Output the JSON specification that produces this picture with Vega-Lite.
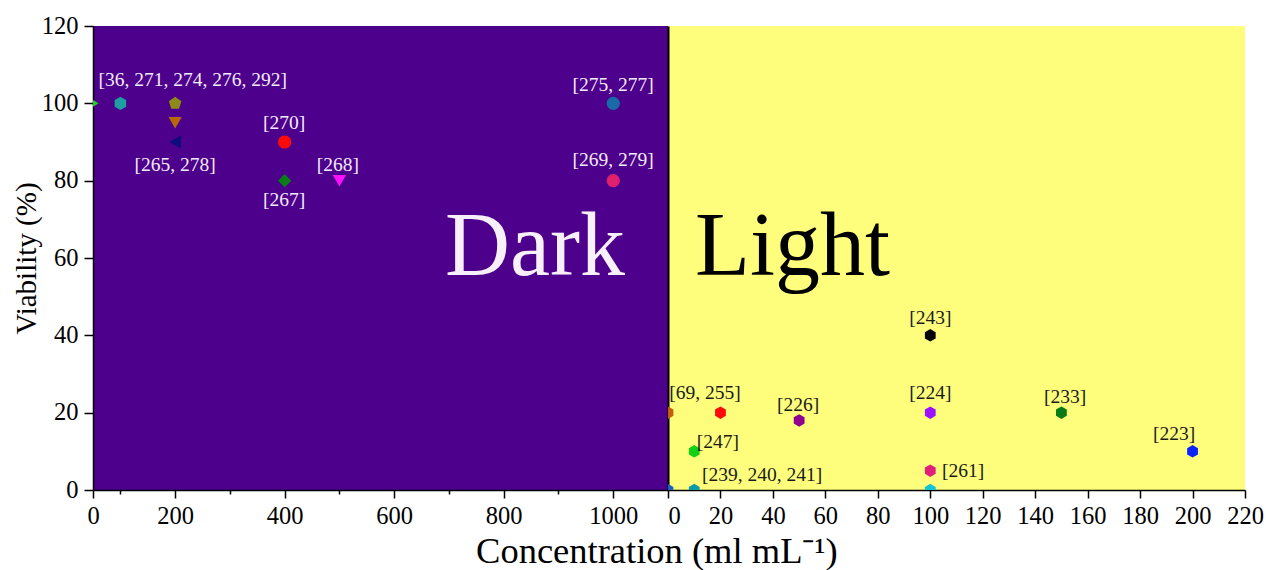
{
  "$schema": "https://vega.github.io/schema/vega-lite/v6.json",
  "padding": {"left": 12, "top": 13, "right": 0, "bottom": 0},
  "background": "white",
  "spacing": 0,
  "bounds": "flush",
  "resolve": {"scale": {"color": "independent", "shape": "independent"}},
  "title": {
    "text": "Concentration (ml mL⁻¹)",
    "orient": "bottom",
    "anchor": "middle",
    "fontSize": 36.5,
    "fontWeight": "normal",
    "font": "Liberation Serif",
    "color": "black",
    "offset": 6,
    "dx": 19
  },
  "config": {
    "view": {"stroke": null},
    "font": "Liberation Serif",
    "axis": {
      "grid": false,
      "domainColor": "black",
      "domainWidth": 1.5,
      "tickColor": "black",
      "tickWidth": 1.5,
      "labelColor": "black",
      "labelFont": "Liberation Serif",
      "labelFontSize": 24.5,
      "labelFlush": false,
      "labelOverlap": false,
      "titleFont": "Liberation Serif",
      "titleFontWeight": "normal",
      "titleColor": "black"
    }
  },
  "datasets": {
    "darkPoints": [
      {"x": 0, "y": 100, "p": "a"},
      {"x": 100, "y": 100, "p": "b"},
      {"x": 200, "y": 100, "p": "c"},
      {"x": 200, "y": 95, "p": "d"},
      {"x": 200, "y": 90, "p": "e"},
      {"x": 400, "y": 90, "p": "f"},
      {"x": 400, "y": 80, "p": "g"},
      {"x": 500, "y": 80, "p": "h"},
      {"x": 1000, "y": 100, "p": "i"},
      {"x": 1000, "y": 80, "p": "j"}
    ],
    "darkLabels": [
      {"x": 232, "y": 106, "label": "[36, 271, 274, 276, 292]"},
      {"x": 200, "y": 84, "label": "[265, 278]"},
      {"x": 399, "y": 95, "label": "[270]"},
      {"x": 399, "y": 75, "label": "[267]"},
      {"x": 497, "y": 84, "label": "[268]"},
      {"x": 1000, "y": 104.7, "label": "[275, 277]"},
      {"x": 1000, "y": 85.3, "label": "[269, 279]"}
    ],
    "darkBig": [{"x": 857, "y": 55.6, "label": "Dark"}],
    "lightPoints": [
      {"x": 0, "y": 20, "p": "k"},
      {"x": 0, "y": 0, "p": "l"},
      {"x": 10, "y": 10, "p": "m"},
      {"x": 10, "y": 0, "p": "n"},
      {"x": 20, "y": 20, "p": "o"},
      {"x": 50, "y": 18, "p": "q"},
      {"x": 100, "y": 40, "p": "r"},
      {"x": 100, "y": 20, "p": "s"},
      {"x": 100, "y": 5, "p": "t"},
      {"x": 100, "y": 0, "p": "u"},
      {"x": 150, "y": 20, "p": "v"},
      {"x": 200, "y": 10, "p": "w"}
    ],
    "lightLabelsCenter": [
      {"x": 49.6, "y": 22, "label": "[226]"},
      {"x": 100, "y": 44.5, "label": "[243]"},
      {"x": 100, "y": 25, "label": "[224]"},
      {"x": 151.4, "y": 24, "label": "[233]"},
      {"x": 193, "y": 14.5, "label": "[223]"}
    ],
    "lightLabelsLeft": [
      {"x": 0.5, "y": 25, "label": "[69, 255]"},
      {"x": 11, "y": 12.4, "label": "[247]"},
      {"x": 13, "y": 3.9, "label": "[239, 240, 241]"},
      {"x": 104.5, "y": 5, "label": "[261]"}
    ],
    "lightBig": [{"x": 10.3, "y": 55.6, "label": "Light"}]
  },
  "hconcat": [
    {
      "width": 575,
      "height": 464,
      "view": {"fill": "#4d008c", "stroke": null},
      "layer": [
        {
          "data": {"name": "darkBig"},
          "mark": {"type": "text", "fontSize": 90, "color": "#f7f0fa", "align": "center", "baseline": "alphabetic", "font": "Liberation Serif"},
          "encoding": {
            "x": {"field": "x", "type": "quantitative"},
            "y": {"field": "y", "type": "quantitative"},
            "text": {"field": "label"}
          }
        },
        {
          "data": {"name": "darkPoints"},
          "mark": {"type": "point", "filled": true, "opacity": 1, "size": 175, "clip": true},
          "encoding": {
            "x": {
              "field": "x", "type": "quantitative",
              "scale": {"domain": [50, 1100], "clamp": true, "nice": false, "zero": false},
              "axis": {
                "title": null,
                "format": "d",
                "values": [50, 100, 200, 300, 400, 500, 600, 700, 800, 900, 1000],
                "labelExpr": "datum.value == 50 ? '0' : (datum.value % 200 == 0 ? datum.label : '')",
                "tickSize": {"condition": {"test": "datum.value % 200 != 0 && datum.value != 50", "value": 4}, "value": 8},
                "labelPadding": 6
              }
            },
            "y": {
              "field": "y", "type": "quantitative",
              "scale": {"domain": [0, 120], "nice": false, "zero": false},
              "axis": {
                "title": "Viability (%)",
                "titleFontSize": 29,
                "titlePadding": 0,
                "values": [0, 10, 20, 30, 40, 50, 60, 70, 80, 90, 100, 110, 120],
                "labelExpr": "datum.value % 20 == 0 ? datum.label : ''",
                "tickSize": {"condition": {"test": "datum.value % 20 != 0", "value": 4}, "value": 9},
                "labelPadding": 6
              }
            },
            "color": {
              "field": "p", "type": "nominal", "legend": null,
              "scale": {
                "domain": ["a", "b", "c", "d", "e", "f", "g", "h", "i", "j"],
                "range": ["#22d022", "#1e9ea0", "#8e8a18", "#b8680a", "#0c0c7c", "#ff0a0a", "#0a7e16", "#ff10ff", "#1a6aa8", "#e0206e"]
              }
            },
            "shape": {
              "field": "p", "type": "nominal", "legend": null,
              "scale": {
                "domain": ["a", "b", "c", "d", "e", "f", "g", "h", "i", "j"],
                "range": [
                  "triangle-right",
                  "M0,-1L0.866,-0.5L0.866,0.5L0,1L-0.866,0.5L-0.866,-0.5Z",
                  "M0,-1L0.951,-0.309L0.588,0.809L-0.588,0.809L-0.951,-0.309Z",
                  "triangle-down",
                  "triangle-left",
                  "circle",
                  "diamond",
                  "triangle-down",
                  "circle",
                  "circle"
                ]
              }
            }
          }
        },
        {
          "data": {"name": "darkLabels"},
          "mark": {"type": "text", "fontSize": 19.5, "color": "#f3ecfa", "align": "center", "baseline": "middle", "font": "Liberation Serif"},
          "encoding": {
            "x": {"field": "x", "type": "quantitative"},
            "y": {"field": "y", "type": "quantitative"},
            "text": {"field": "label"}
          }
        }
      ]
    },
    {
      "width": 577,
      "height": 464,
      "view": {"fill": "#fefe7c", "stroke": null},
      "layer": [
        {
          "data": {"name": "lightBig"},
          "mark": {"type": "text", "fontSize": 90, "color": "black", "align": "left", "baseline": "alphabetic", "font": "Liberation Serif"},
          "encoding": {
            "x": {"field": "x", "type": "quantitative"},
            "y": {"field": "y", "type": "quantitative"},
            "text": {"field": "label"}
          }
        },
        {
          "data": {"name": "lightPoints"},
          "mark": {"type": "point", "filled": true, "opacity": 1, "size": 155, "clip": true, "shape": "M0,-1L0.866,-0.5L0.866,0.5L0,1L-0.866,0.5L-0.866,-0.5Z"},
          "encoding": {
            "x": {
              "field": "x", "type": "quantitative",
              "scale": {"domain": [0, 220], "nice": false, "zero": false},
              "axis": {
                "title": null,
                "values": [0, 10, 20, 30, 40, 50, 60, 70, 80, 90, 100, 110, 120, 130, 140, 150, 160, 170, 180, 190, 200, 210, 220],
                "labelExpr": "datum.value % 20 == 0 ? datum.label : ''",
                "labelAlign": {"condition": {"test": "datum.value == 0", "value": "left"}, "value": "center"},
                "tickSize": {"condition": {"test": "datum.value % 20 != 0", "value": 4}, "value": 8},
                "labelPadding": 6
              }
            },
            "y": {
              "field": "y", "type": "quantitative",
              "scale": {"domain": [0, 120], "nice": false, "zero": false},
              "axis": {"title": null, "labels": false, "ticks": false, "domainWidth": 2}
            },
            "color": {
              "field": "p", "type": "nominal", "legend": null,
              "scale": {
                "domain": ["k", "l", "m", "n", "o", "q", "r", "s", "t", "u", "v", "w"],
                "range": ["#c0600c", "#1a62c0", "#14d014", "#0a9aa8", "#ff0a0a", "#900090", "#050505", "#9a12ff", "#e0207a", "#10c4d4", "#0a7a14", "#0a22ff"]
              }
            }
          }
        },
        {
          "data": {"name": "lightLabelsCenter"},
          "mark": {"type": "text", "fontSize": 19.5, "color": "#1a1a1a", "align": "center", "baseline": "middle", "font": "Liberation Serif"},
          "encoding": {
            "x": {"field": "x", "type": "quantitative"},
            "y": {"field": "y", "type": "quantitative"},
            "text": {"field": "label"}
          }
        },
        {
          "data": {"name": "lightLabelsLeft"},
          "mark": {"type": "text", "fontSize": 19.5, "color": "#1a1a1a", "align": "left", "baseline": "middle", "font": "Liberation Serif"},
          "encoding": {
            "x": {"field": "x", "type": "quantitative"},
            "y": {"field": "y", "type": "quantitative"},
            "text": {"field": "label"}
          }
        }
      ]
    }
  ]
}
